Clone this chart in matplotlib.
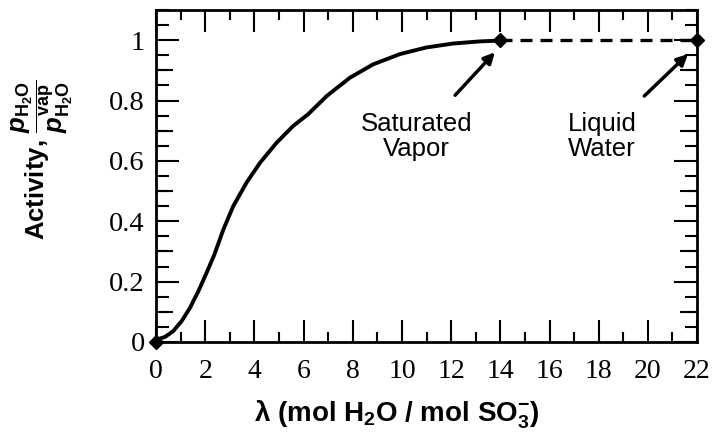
import numpy as np
import matplotlib
matplotlib.use('Agg')
import matplotlib.pyplot as plt
from matplotlib.ticker import MultipleLocator, FixedLocator, NullFormatter

plt.rcParams['mathtext.fontset'] = 'custom'
plt.rcParams['mathtext.rm'] = 'Liberation Sans:bold'
plt.rcParams['mathtext.it'] = 'Liberation Sans:italic:bold'
plt.rcParams['mathtext.bf'] = 'Liberation Sans:bold'

# isotherm: water content vs activity
lam = [0, 0.03, 0.37, 0.70, 1.04, 1.38, 1.72, 2.06, 2.36, 2.74, 3.14, 3.68,
       4.23, 4.9, 5.58, 6.19, 6.94, 7.89, 8.83, 9.92, 11.0, 12.09, 13.17,
       13.78, 14]
act = [0, 0.008, 0.017, 0.036, 0.069, 0.113, 0.168, 0.23, 0.287, 0.373,
       0.45, 0.528, 0.594, 0.66, 0.716, 0.755, 0.815, 0.876, 0.92, 0.954,
       0.976, 0.989, 0.996, 0.998, 1.0]

# saturated vapour -> liquid water
jump_lam = [14, 22]
jump_act = [1.0, 1.0]

point_lam = [0, 14, 22]
point_act = [0, 1.0, 1.0]

xticks = list(range(0, 23, 2))
xtick_labels = [str(v) for v in xticks]
yticks = [0, 0.2, 0.4, 0.6, 0.8, 1.0]
ytick_labels = ['0', '0.2', '0.4', '0.6', '0.8', '1']

fig = plt.figure(figsize=(7.17, 4.37), dpi=100)
ax = fig.add_axes([0.2176, 0.2174, 0.7546, 0.7597])

ax.plot(lam, act, color='black', lw=2.8, solid_capstyle='round',
        solid_joinstyle='round')
ax.plot(jump_lam, jump_act, color='black', lw=2.4, dashes=(3.6, 2.4))
ax.plot(point_lam, point_act, ls='none', marker='D', ms=7.5, color='black',
        clip_on=False, zorder=5)

ax.set_xlim(0, 22)
ax.set_ylim(0, 1.1)

serif = 'Liberation Serif'
ax.set_xticks(xticks)
ax.set_xticklabels(xtick_labels, family=serif, fontsize=20)
ax.set_yticks(yticks)
ax.set_yticklabels(ytick_labels, family=serif, fontsize=20.5)
ax.xaxis.set_minor_locator(MultipleLocator(1))
ax.yaxis.set_minor_locator(MultipleLocator(0.05))

ax.tick_params(which='both', direction='in', top=True, right=True, width=1.5)
ax.tick_params(axis='x', which='major', length=15.5, pad=12)
ax.tick_params(axis='x', which='minor', length=7.5)
ax.tick_params(axis='y', which='major', length=16.5, pad=8)
ax.tick_params(axis='y', which='minor', length=9)
for s in ax.spines.values():
    s.set_linewidth(2)

# medium ticks at the odd tenths
for side in ['left', 'right']:
    sec = ax.secondary_yaxis(side)
    sec.yaxis.set_major_locator(FixedLocator([0.1, 0.3, 0.5, 0.7, 0.9]))
    sec.yaxis.set_major_formatter(NullFormatter())
    sec.tick_params(direction='in', length=12.5, width=1.5)
    sec.spines[side].set_visible(False)

ax.set_xlabel('λ (mol H$_2$O / mol SO$_3^{-}$)', fontsize=20,
              family='Liberation Sans', weight='bold')
ax.xaxis.label.set_va('center')
ax.xaxis.set_label_coords(0.445, -0.22)
ax.set_ylabel(r'Activity, $\dfrac{p_{\mathrm{H_2O}}}{p^{\mathrm{vap}}_{\mathrm{H_2O}}}$',
              fontsize=18.5, family='Liberation Sans', weight='bold')
ax.yaxis.label.set_va('center')
ax.yaxis.set_label_coords(-0.21, 0.55)

sans = 'Liberation Sans'
ax.annotate('Saturated\nVapor', xy=(13.78, 0.96), xytext=(10.6, 0.68),
            ha='center', va='center', fontsize=18.5, family=sans,
            linespacing=1.05,
            arrowprops=dict(arrowstyle='-|>', color='black', lw=2.5,
                            mutation_scale=16, shrinkA=14, shrinkB=0))
ax.annotate('Liquid\nWater', xy=(21.63, 0.954), xytext=(18.13, 0.68),
            ha='center', va='center', fontsize=18.5, family=sans,
            linespacing=1.05,
            arrowprops=dict(arrowstyle='-|>', color='black', lw=2.5,
                            mutation_scale=16, shrinkA=14, shrinkB=0))

fig.savefig('out.png', dpi=100)
